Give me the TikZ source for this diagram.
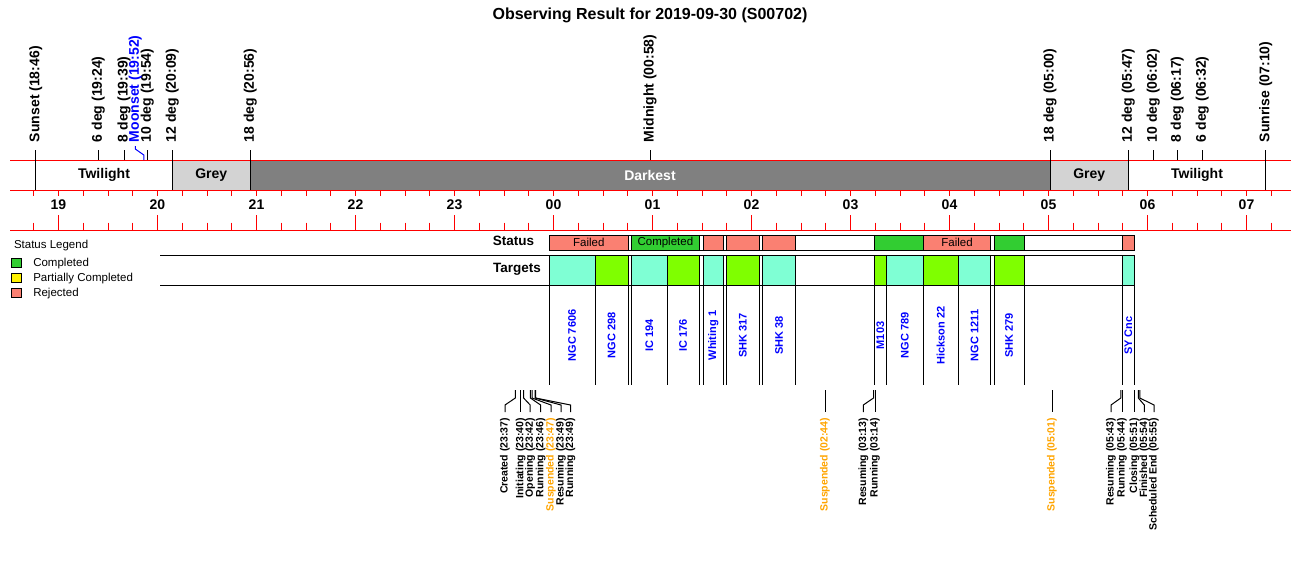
\documentclass[tikz,border=0pt]{standalone}
\usepackage{fontspec}
\setmainfont{Liberation Sans}
\definecolor{salmonc}{HTML}{FA8072}
\definecolor{limec}{HTML}{32CD32}
\definecolor{aquac}{HTML}{7FFFD4}
\definecolor{chartc}{HTML}{7FFF00}
\definecolor{greyl}{HTML}{D3D3D3}
\definecolor{greyd}{HTML}{808080}
\definecolor{orangec}{HTML}{FFA500}
\definecolor{bluec}{HTML}{0000FF}
\definecolor{redc}{HTML}{FF0000}
\newcommand\toplab[4]{% name, x, text, bottom y of line
  \node[toplbl] (#1) at (#2,150) {#3};
  \draw[black] (#1.west) -- (#2,#4);
}
\newcommand\evt[5]{% name, event x, label x, text, colour
  \node[evlbl, text=#5] (#1) at (#3,412) {#4};
  \coordinate (#1e) at (#2,390);
  \draw (#1e) -- (#2,398) -- (#3,405) -- (#1.east);
}
\newcommand\stbox[4]{% name, x1, x2, colour
  \draw[fill=#4] (#2,235) rectangle (#3,250);
  \coordinate (#1) at ({(#2+#3)/2},242.5);
}
\newcommand\tgbox[5]{% name, x1, x2, colour, label
  \draw[fill=#4] (#2,255.5) rectangle (#3,285.5);
  \draw (#2,285.5) -- (#2,385);
  \draw (#3,285.5) -- (#3,385);
  \node[tgtlbl] (#1) at ({(#2+#3)/2},335.5) {#5};
}
\begin{document}
\begin{tikzpicture}[x=1pt,y=-1pt,line width=1pt,
  every node/.style={inner sep=0pt,outer sep=0pt},
  toplbl/.style={rotate=90,anchor=west,outer xsep=8pt,font=\fontsize{14}{16}\selectfont\bfseries},
  bandlbl/.style={font=\fontsize{14}{16}\selectfont\bfseries},
  hourlbl/.style={font=\fontsize{14}{16}\selectfont\bfseries},
  tgtlbl/.style={rotate=90,text=bluec,font=\fontsize{11}{13}\selectfont\bfseries},
  evlbl/.style={rotate=90,anchor=east,outer xsep=6pt,font=\fontsize{10.5}{12}\selectfont\bfseries},
  rowlbl/.style={font=\fontsize{13.5}{15}\selectfont\bfseries},
  stlbl/.style={font=\fontsize{11.5}{13}\selectfont},
  leglbl/.style={anchor=west,font=\fontsize{11.5}{13}\selectfont},
  legbox/.style={draw=black,line width=0.8pt}]
\useasboundingbox (0,0) rectangle (1300,560);
\fill[white] (0,0) rectangle (1300,560);
% title
\node[font=\fontsize{16}{18}\selectfont\bfseries] (title) at (650,15) {Observing Result for 2019-09-30 (S00702)};
% band fills
\fill[white] (35.7,160) rectangle (172.3,190);
\fill[greyl] (172.3,160) rectangle (250.3,190);
\fill[greyd] (250.3,160) rectangle (1050,190);
\fill[greyl] (1050,160) rectangle (1128.3,190);
\fill[white] (1128.3,160) rectangle (1265.7,190);
\node[bandlbl] (tw1) at (104,175) {Twilight};
\node[bandlbl] (gr1) at (211.3,175) {Grey};
\node[bandlbl,text=white] (dk) at (650,175) {Darkest};
\node[bandlbl] (gr2) at (1089.2,175) {Grey};
\node[bandlbl] (tw2) at (1197,175) {Twilight};
% red lines and ticks
\draw[redc] (10,160) -- (1291,160);
\draw[redc] (10,190) -- (1291,190);
\draw[redc] (10,230) -- (1291,230);
\foreach \i in {0,...,50} {
  \draw[redc] ({33.75+24.75*\i},190) -- ({33.75+24.75*\i},196);
  \draw[redc] ({33.75+24.75*\i},222.7) -- ({33.75+24.75*\i},230);
}
\foreach \h [count=\k from 0] in {19,20,21,22,23,00,01,02,03,04,05,06,07} {
  \draw[redc] ({58.5+99*\k},215) -- ({58.5+99*\k},230);
  \node[hourlbl] (hr\k) at ({58.5+99*\k},205) {\h};
}
% top event labels
\toplab{sunset}{35.7}{Sunset (18:46)}{190}
\toplab{sixa}{98.3}{6 deg (19:24)}{160}
\toplab{eighta}{124}{8 deg (19:39)}{160}
\toplab{tena}{147.2}{10 deg (19:54)}{160}
\toplab{twelvea}{172.3}{12 deg (20:09)}{190}
\toplab{eighteena}{250.3}{18 deg (20:56)}{190}
\toplab{midnight}{650}{Midnight (00:58)}{160}
\toplab{eighteenb}{1050}{18 deg (05:00)}{190}
\toplab{twelveb}{1128.3}{12 deg (05:47)}{190}
\toplab{tenb}{1153.3}{10 deg (06:02)}{160}
\toplab{eightb}{1177.3}{8 deg (06:17)}{160}
\toplab{sixb}{1202.3}{6 deg (06:32)}{160}
\toplab{sunrise}{1265.7}{Sunrise (07:10)}{190}
\node[toplbl,text=bluec,outer xsep=4pt] (moonset) at (135.3,146) {Moonset (19:52)};
\coordinate (moonpt) at (143.8,160);
\draw[bluec] (moonset.west) -- (135.3,149) -- (143.8,155) -- (moonpt);
% legend
\node[leglbl] (legtitle) at (14,246) {Status Legend};
\draw[legbox,fill=limec] (11,258.3) rectangle (21.3,267.7);
\draw[legbox,fill=yellow] (11,273.3) rectangle (21.3,282.7);
\draw[legbox,fill=salmonc] (11,288.3) rectangle (21.3,297.7);
\node[leglbl] (legc) at (33.3,264) {Completed};
\node[leglbl] (legp) at (33.3,279) {Partially Completed};
\node[leglbl] (legr) at (33.3,294) {Rejected};
% row labels and lines
\node[rowlbl] (statuslbl) at (513.5,241.3) {Status};
\node[rowlbl] (targetslbl) at (517,269.3) {Targets};
\draw (160,255.5) -- (1134.3,255.5);
\draw (160,285.5) -- (1134.3,285.5);
% status row
\draw (549.3,235) rectangle (1134.3,250);
\stbox{s1}{549.3}{628.3}{salmonc}
\stbox{s2}{631.7}{699}{limec}
\stbox{s3}{703.3}{723.3}{salmonc}
\stbox{s4}{726}{759.5}{salmonc}
\stbox{s5}{762.7}{795.3}{salmonc}
\stbox{s6}{874.3}{923.3}{limec}
\stbox{s7}{923.3}{990.7}{salmonc}
\stbox{s8}{994}{1024.3}{limec}
\stbox{s9}{1122.3}{1134.3}{salmonc}
\node[stlbl] at (s1) {Failed};
\node[stlbl] at (s2) {Completed};
\node[stlbl] at (s7) {Failed};
% targets row
\tgbox{t1}{549.3}{595}{aquac}{NGC 7606}
\tgbox{t2}{595}{628.3}{chartc}{NGC 298}
\tgbox{t3}{631.5}{667.3}{aquac}{IC 194}
\tgbox{t4}{667.3}{699}{chartc}{IC 176}
\tgbox{t5}{703.3}{723.3}{aquac}{Whiting 1}
\tgbox{t6}{726}{759.5}{chartc}{SHK 317}
\tgbox{t7}{762.7}{795.3}{aquac}{SHK 38}
\tgbox{t8}{874.3}{886.3}{chartc}{M103}
\tgbox{t9}{886.3}{923.3}{aquac}{NGC 789}
\tgbox{t10}{923.3}{958.3}{chartc}{Hickson 22}
\tgbox{t11}{958.3}{990.7}{aquac}{NGC 1211}
\tgbox{t12}{994}{1024.3}{chartc}{SHK 279}
\tgbox{t13}{1122.3}{1134.3}{aquac}{SY Cnc}
% bottom events
\evt{ea}{515.3}{505}{Created (23:37)}{black}
\evt{eb}{520.6}{520.6}{Initiating (23:40)}{black}
\evt{ec}{523.6}{530.2}{Opening (23:42)}{black}
\evt{ed}{530.4}{540.6}{Running (23:46)}{black}
\evt{ee}{532}{551}{Suspended (23:47)}{orangec}
\evt{ef}{535.2}{561}{Resuming (23:49)}{black}
\evt{eg}{535.6}{570.5}{Running (23:49)}{black}
\evt{eh}{825}{825}{Suspended (02:44)}{orangec}
\evt{ei}{873.5}{863.3}{Resuming (03:13)}{black}
\evt{ej}{875}{875}{Running (03:14)}{black}
\evt{ek}{1052}{1052}{Suspended (05:01)}{orangec}
\evt{el}{1120.8}{1111}{Resuming (05:43)}{black}
\evt{em}{1122}{1122}{Running (05:44)}{black}
\evt{en}{1134.3}{1134.3}{Closing (05:51)}{black}
\evt{eo}{1138.3}{1144.3}{Finished (05:54)}{black}
\evt{ep}{1139.8}{1154}{Scheduled End (05:55)}{black}
\end{tikzpicture}
\end{document}
